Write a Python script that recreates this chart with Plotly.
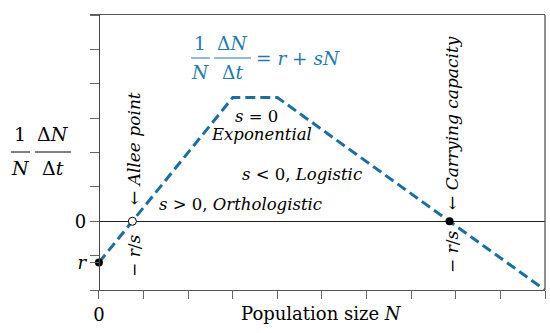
import plotly.graph_objects as go

# ---- data ----
N_curve = [0.0, 3.0, 4.0, 10.0]
rate_curve = [-1.2, 3.6, 3.6, -2.0]
r_value = -1.2
allee_N = [0.75]
allee_y = [0.0]
carrying_N = [7.86]
carrying_y = [0.0]
x_ticks = list(range(0, 11))
x_ticktext = ["0"] + [""] * 10
y_ticks = [-2, -1, 0, 1, 2, 3, 4, 5, 6, r_value]
y_ticktext = ["", "", "0", "", "", "", "", "", "", "<i>r</i>"]

FONT = "DejaVu Serif"
BLUE = "#1b6f9f"
BLUE_T = "#2479ad"

W, H = 550, 333
ML, MR, MT, MB = 90, 5, 15, 43
PW, PH = W - ML - MR, H - MT - MB


def P(px, py):
    return (px - ML) / PW, (H - MB - py) / PH


fig = go.Figure()
fig.add_trace(go.Scatter(x=N_curve, y=rate_curve, mode="lines",
                         line=dict(color=BLUE, width=3, dash="10px,5px"),
                         hoverinfo="skip", showlegend=False))
fig.add_trace(go.Scatter(x=allee_N, y=allee_y, mode="markers",
                         marker=dict(size=8, color="white", line=dict(color="black", width=1)),
                         showlegend=False, cliponaxis=False))
fig.add_trace(go.Scatter(x=carrying_N, y=carrying_y, mode="markers",
                         marker=dict(size=8, color="black"), showlegend=False, cliponaxis=False))
fig.add_trace(go.Scatter(x=[0], y=[r_value], mode="markers",
                         marker=dict(size=8, color="black"), showlegend=False, cliponaxis=False))

ann = []


def add_text(txt, px, py, size=17, color="black", angle=0, xanchor="center"):
    x, y = P(px, py)
    ann.append(dict(text=txt, x=x, y=y, xref="paper", yref="paper", showarrow=False,
                    font=dict(family=FONT, size=size, color=color), textangle=angle,
                    xanchor=xanchor, yanchor="middle"))


shapes = []


def add_bar(x0, x1, py, color):
    a, b = P(x0, py)
    c, _ = P(x1, py)
    shapes.append(dict(type="line", xref="paper", yref="paper", x0=a, x1=c, y0=b, y1=b,
                       line=dict(color=color, width=1)))


# formula in blue
add_text("1", 200, 43, 18.5, BLUE_T)
add_text("<i>N</i>", 200, 72, 18.5, BLUE_T)
add_bar(191, 210, 58, BLUE_T)
add_text("Δ<i>N</i>", 232, 43, 18.5, BLUE_T)
add_text("Δ<i>t</i>", 232, 72, 18.5, BLUE_T)
add_bar(214, 251, 58, BLUE_T)
add_text("= <i>r</i> + <i>sN</i>", 254, 58, 18.5, BLUE_T, xanchor="left")

# y-axis label
add_text("1", 20, 134, 19)
add_text("<i>N</i>", 20, 168, 19)
add_bar(11, 30, 152, "black")
add_text("Δ<i>N</i>", 53, 134, 19)
add_text("Δ<i>t</i>", 53, 168, 19)
add_bar(35, 71, 152, "black")

# x-axis title
add_text("Population size <i>N</i>", 321, 313, 18)

# regime labels
add_text("<i>s</i> = 0", 256, 117, 16.5)
add_text("<i>Exponential</i>", 261, 134, 16.5)
add_text("<i>s</i> < 0, <i>Logistic</i>", 302, 174, 16.5)
add_text("<i>s</i> > 0, <i>Orthologistic</i>", 240, 204, 16.5)

# rotated labels
add_text("← <i>Allee point</i>", 134, 149, 17, angle=-90)
add_text("− <i>r</i>/<i>s</i>", 134, 256, 17, angle=-90)
add_text("← <i>Carrying capacity</i>", 452, 123, 17, angle=-90)
add_text("− <i>r</i>/<i>s</i>", 452, 252, 17, angle=-90)

# right spine
shapes.append(dict(type="line", xref="paper", yref="paper", x0=1, x1=1, y0=0, y1=1,
                   line=dict(color="#555", width=1.3)))

fig.update_layout(
    width=W, height=H, margin=dict(l=ML, r=MR, t=MT, b=MB),
    paper_bgcolor="white", plot_bgcolor="white",
    font=dict(family=FONT, size=18, color="black"),
    annotations=ann, shapes=shapes,
    xaxis=dict(range=[-0.2, 10], tickvals=x_ticks, ticktext=x_ticktext,
               ticks="outside", ticklen=8, tickcolor="#666", tickwidth=1,
               showline=True, linecolor="#555", linewidth=1.3, mirror=True,
               showgrid=False, zeroline=False, tickfont=dict(family=FONT, size=18)),
    yaxis=dict(range=[-2, 6], tickvals=y_ticks, ticktext=y_ticktext,
               anchor="free", position=0.2 / 10.2,
               ticks="outside", ticklen=9, tickcolor="#666", tickwidth=1,
               showline=True, linecolor="#444", linewidth=1.2,
               showgrid=False, zeroline=True, zerolinecolor="#222", zerolinewidth=1,
               tickfont=dict(family=FONT, size=18)),
)

fig.write_html("out.html")
